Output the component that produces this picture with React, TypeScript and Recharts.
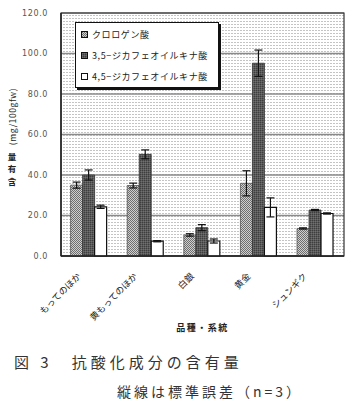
import React from 'react'
import { BarChart, Bar, XAxis, YAxis, CartesianGrid, Legend, ErrorBar, ReferenceArea } from 'recharts'

// 品種・系統
const categories = ['もってのほか', '黄もってのほか', '白銀', '黄金', 'シュンギク']

// 含有量 (mg/100gfw) と標準誤差
const chlorogenic = [35.0, 34.8, 10.4, 35.9, 13.6]
const chlorogenicSe = [1.5, 1.2, 0.6, 6.2, 0.3]
const dicq35 = [40.0, 50.2, 14.0, 95.2, 22.7]
const dicq35Se = [2.5, 2.2, 1.5, 6.5, 0.3]
const dicq45 = [24.3, 7.3, 7.4, 24.0, 21.0]
const dicq45Se = [0.8, 0.3, 1.0, 4.7, 0.3]

const yTicks = [0, 20, 40, 60, 80, 100, 120]

const seriesNames = ['クロロゲン酸', '3,5−ジカフェオイルキナ酸', '4,5−ジカフェオイルキナ酸']

const data = categories.map((name, i) => ({
  name,
  chloro: chlorogenic[i],
  chloroSe: chlorogenicSe[i],
  d35: dicq35[i],
  d35Se: dicq35Se[i],
  d45: dicq45[i],
  d45Se: dicq45Se[i],
}))

const tickFont = '"DejaVu Sans", sans-serif'
const jpFont = '"Noto Sans CJK JP", sans-serif'

// 横軸ラベル（斜め）
const CategoryTick = (props: any) => {
  const { x, y, payload } = props
  return (
    <text
      transform={`translate(${x - 8},${y + 19}) rotate(-45)`}
      textAnchor="end"
      fontSize={9}
      fontFamily={jpFont}
      fill="#222"
    >
      {payload.value}
    </text>
  )
}

// 縦軸タイトル：「含有量」は縦書き、単位は回転
const YTitle = (props: any) => {
  const vb = props.viewBox || { x: 0, y: 13, width: 61, height: 243 }
  const cx = vb.x + 12
  const mid = vb.y + vb.height / 2
  return (
    <g fill="#222" fontFamily={jpFont}>
      <text
        transform={`translate(${cx},${mid - 18}) rotate(-90)`}
        textAnchor="middle"
        dominantBaseline="central"
        fontSize={8.5}
        letterSpacing={0.6}
      >
        (mg/100gfw)
      </text>
      <text x={cx} y={mid + 25} textAnchor="middle" fontSize={8.5} fontWeight="bold">
        <tspan x={cx} dy={0}>量</tspan>
        <tspan x={cx} dy={12.5}>有</tspan>
        <tspan x={cx} dy={12.5}>含</tspan>
      </text>
    </g>
  )
}

const markerFills = ['url(#chloroFill)', 'url(#d35Fill)', '#fff']

const LegendBox = () => (
  <div
    style={{
      width: 142,
      height: 64,
      border: '1px solid #111',
      boxShadow: '2px 2px 0 #111',
      background: '#fff',
      fontFamily: jpFont,
      fontSize: 9,
      color: '#222',
      boxSizing: 'content-box',
    }}
  >
    {seriesNames.map((n, i) => (
      <div
        key={n}
        style={{ position: 'absolute', left: 6, top: 6 + i * 21, height: 12, display: 'flex', alignItems: 'center' }}
      >
        <svg width={7} height={7} style={{ marginRight: 4 }}>
          <rect x={0.5} y={0.5} width={6} height={6} fill={markerFills[i]} stroke="#111" strokeWidth={1} />
        </svg>
        <span style={{ letterSpacing: 0.6, whiteSpace: 'nowrap' }}>{n}</span>
      </div>
    ))}
  </div>
)

export default function App() {
  return (
    <div style={{ position: 'absolute', left: 0, top: 0, width: 361, height: 405, background: '#fff' }}>
      <BarChart
        width={361}
        height={340}
        data={data}
        margin={{ top: 13, right: 17, left: 0, bottom: 9 }}
        barCategoryGap="17%"
        barGap={0}
      >
        <defs>
          <pattern id="bgDots" width="3" height="3" patternUnits="userSpaceOnUse">
            <rect width="3" height="3" fill="#fff" />
            <rect x="0" y="0" width="2" height="1" fill="#c4c4c4" />
          </pattern>
          <pattern id="chloroFill" width="2" height="2" patternUnits="userSpaceOnUse">
            <rect width="2" height="2" fill="#cfcfcf" />
            <rect x="0" y="0" width="1" height="1" fill="#6e6e6e" />
            <rect x="1" y="1" width="1" height="1" fill="#6e6e6e" />
          </pattern>
          <pattern id="d35Fill" width="2" height="2" patternUnits="userSpaceOnUse">
            <rect width="2" height="2" fill="#5a5a5a" />
            <rect x="0" y="0" width="1" height="1" fill="#3e3e3e" />
            <rect x="1" y="1" width="1" height="1" fill="#707070" />
          </pattern>
        </defs>
        <CartesianGrid
          vertical={false}
          horizontal={true}
          stroke="#8a8a8a"
          strokeWidth={1.3}
          fill="url(#bgDots)"
          fillOpacity={1}
        />
        <XAxis
          dataKey="name"
          interval={0}
          height={75}
          tickLine={false}
          tickSize={0}
          axisLine={{ stroke: '#222', strokeWidth: 1.5 }}
          tick={<CategoryTick />}
          label={{
            value: '品種・系統',
            position: 'insideBottom',
            offset: 0,
            fontSize: 9,
            fontWeight: 'bold',
            fontFamily: jpFont,
            fill: '#222',
            letterSpacing: 1.5,
          }}
        />
        <YAxis
          width={61}
          domain={[0, 120]}
          ticks={yTicks}
          interval={0}
          tickFormatter={(v: number) => v.toFixed(1)}
          tickLine={false}
          tickSize={0}
          tickMargin={13}
          axisLine={{ stroke: '#222', strokeWidth: 1.5 }}
          tick={{ fontSize: 8, fontFamily: tickFont, fill: '#555', letterSpacing: 0.6 }}
          label={<YTitle />}
        />
        <Legend
          layout="horizontal"
          verticalAlign="middle"
          align="center"
          wrapperStyle={{ position: 'absolute', top: 22, left: 75, width: 146, height: 68, margin: 0 }}
          content={() => <LegendBox />}
        />
        <Bar dataKey="chloro" name={seriesNames[0]} fill="url(#chloroFill)" stroke="#555" strokeWidth={0.8} isAnimationActive={false}>
          <ErrorBar dataKey="chloroSe" width={4} stroke="#111" strokeWidth={1.2} />
        </Bar>
        <Bar dataKey="d35" name={seriesNames[1]} fill="url(#d35Fill)" stroke="#333" strokeWidth={0.8} isAnimationActive={false}>
          <ErrorBar dataKey="d35Se" width={4} stroke="#111" strokeWidth={1.2} />
        </Bar>
        <Bar dataKey="d45" name={seriesNames[2]} fill="#fff" stroke="#111" strokeWidth={1.2} isAnimationActive={false}>
          <ErrorBar dataKey="d45Se" width={4} stroke="#111" strokeWidth={1.2} />
        </Bar>
        <ReferenceArea y1={0} y2={120} fill="none" stroke="#333" strokeWidth={1.2} ifOverflow="visible" />
      </BarChart>
      <div
        style={{
          position: 'absolute',
          left: 14,
          top: 353,
          fontFamily: jpFont,
          fontSize: 15,
          lineHeight: '18px',
          letterSpacing: 4,
          color: '#333',
          whiteSpace: 'pre',
        }}
      >
        図 3　抗酸化成分の含有量
      </div>
      <div
        style={{
          position: 'absolute',
          left: 117,
          top: 382,
          fontFamily: jpFont,
          fontSize: 14,
          lineHeight: '18px',
          letterSpacing: 3,
          color: '#333',
          whiteSpace: 'pre',
        }}
      >
        縦線は標準誤差（n=3）
      </div>
    </div>
  )
}
